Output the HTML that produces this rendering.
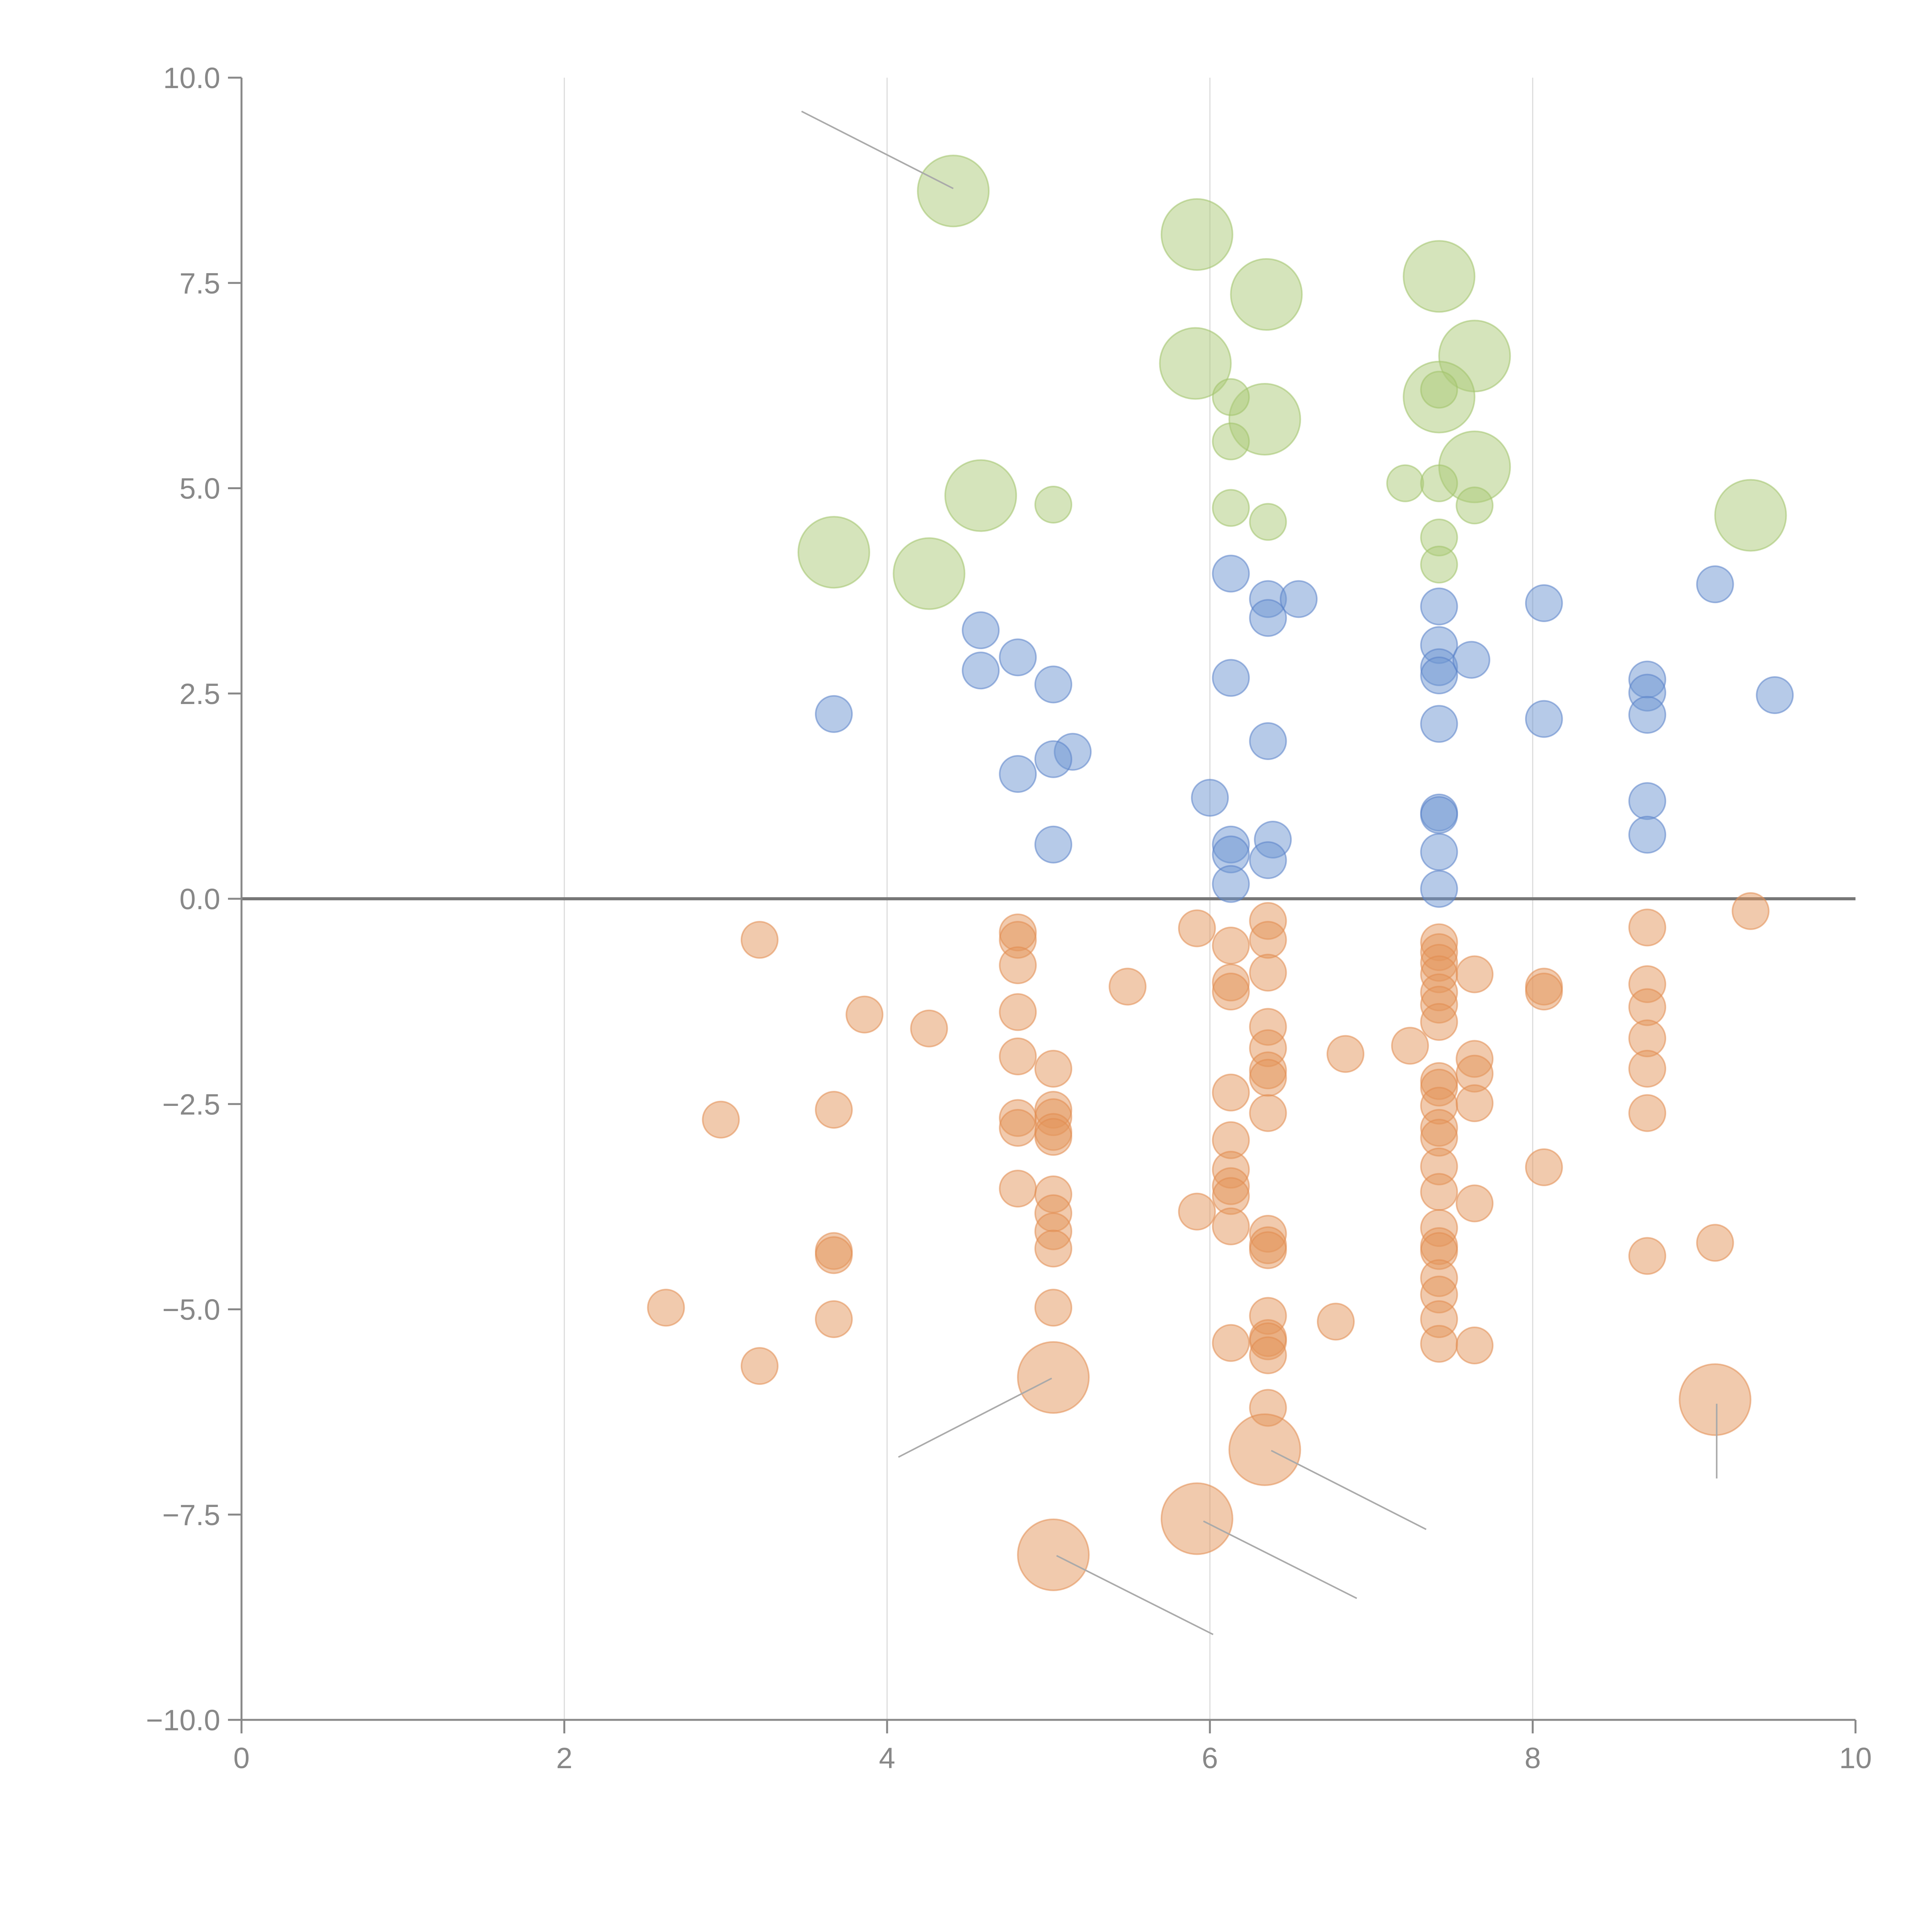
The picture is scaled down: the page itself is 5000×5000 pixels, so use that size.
<!DOCTYPE html>
<html><head><meta charset="utf-8"><style>
html,body{margin:0;padding:0;background:#fff}
svg{display:block}
text{font-family:"Liberation Sans",sans-serif;fill:#888;font-size:76px}
</style></head><body>
<svg id="chart" width="5000" height="5000" viewBox="0 0 5000 5000" xmlns="http://www.w3.org/2000/svg"></svg>
<script>
const xTicks=[0,2,4,6,8,10];
const yTicks=[-10,-7.5,-5,-2.5,0,2.5,5,7.5,10];
const yTickLabels=["\u221210.0","\u22127.5","\u22125.0","\u22122.5","0.0","2.5","5.0","7.5","10.0"];
const greenX=[4.41,5.92,6.35,7.42,7.64,5.91,7.42,6.34,6.13,6.13,7.64,7.42,7.21,7.42,4.58,5.03,6.13,6.36,7.64,9.35,3.67,7.42,7.42,4.26];
const greenY=[8.62,8.09,7.36,7.58,6.61,6.52,6.11,5.84,6.11,5.57,5.26,6.2,5.06,5.06,4.91,4.80,4.76,4.59,4.79,4.67,4.22,4.40,4.07,3.96];
const greenBig=[1,1,1,1,1,1,1,1,0,0,1,0,0,0,1,0,0,0,0,1,1,0,0,1];
const blueX=[6.13,6.36,6.55,6.36,7.42,8.07,9.13,4.58,4.81,4.58,5.03,3.67,7.42,7.42,7.42,7.62,6.13,8.71,8.71,8.71,9.50,8.07,7.42,6.36,5.15,5.03,4.81,6.00,8.71,7.42,7.42,8.71,5.03,6.13,6.39,6.13,7.42,6.36,6.13,7.42];
const blueY=[3.96,3.65,3.65,3.42,3.56,3.60,3.83,3.27,2.94,2.78,2.61,2.25,3.09,2.82,2.72,2.91,2.69,2.67,2.51,2.24,2.48,2.19,2.13,1.92,1.79,1.70,1.52,1.23,1.19,1.05,1.02,0.78,0.66,0.66,0.72,0.54,0.57,0.47,0.18,0.12];
const orangeX=[9.35,6.36,5.92,8.71,3.21,4.81,4.81,6.36,6.13,7.42,7.42,7.42,4.81,7.42,6.36,7.64,8.07,8.07,5.49,6.13,6.13,8.71,7.42,7.42,8.71,7.42,3.86,4.81,4.26,6.36,8.71,7.24,6.36,6.84,4.81,5.03,7.64,7.64,6.36,6.36,8.71,7.42,7.42,6.13,7.42,7.64,3.67,5.03,5.03,2.97,4.81,6.36,8.71,4.81,7.42,5.03,5.03,7.42,6.13,7.42,6.13,8.07,4.81,6.13,6.13,5.03,7.42,7.64,5.03,5.92,7.42,6.13,5.03,6.36,6.36,6.36,7.42,7.42,9.13,5.03,3.67,3.67,8.71,7.42,7.42,2.63,5.03,6.36,3.67,7.42,6.78,6.36,6.36,6.13,7.42,7.64,6.36,3.21,6.36,5.03,9.13,6.34,5.92,5.03];
const orangeY=[-0.15,-0.27,-0.36,-0.35,-0.50,-0.41,-0.50,-0.50,-0.57,-0.53,-0.65,-0.78,-0.81,-0.92,-0.90,-0.92,-1.07,-1.13,-1.07,-1.02,-1.13,-1.04,-1.14,-1.29,-1.32,-1.50,-1.41,-1.38,-1.58,-1.56,-1.70,-1.79,-1.82,-1.89,-1.92,-2.07,-1.95,-2.13,-2.09,-2.18,-2.07,-2.22,-2.30,-2.36,-2.52,-2.49,-2.57,-2.57,-2.66,-2.69,-2.67,-2.61,-2.61,-2.79,-2.79,-2.84,-2.90,-2.91,-2.94,-3.26,-3.30,-3.27,-3.53,-3.50,-3.62,-3.60,-3.57,-3.71,-3.83,-3.81,-4.01,-3.99,-4.05,-4.08,-4.22,-4.28,-4.23,-4.29,-4.19,-4.26,-4.29,-4.34,-4.35,-4.62,-4.82,-4.98,-4.98,-5.08,-5.12,-5.12,-5.15,-5.35,-5.39,-5.41,-5.42,-5.44,-5.56,-5.69,-6.20,-5.83,-6.10,-6.71,-7.55,-7.99];
const orangeBig=orangeX.map((v,i)=>i>=orangeX.length-5?1:0);
const annoX1=[3.47,4.07,6.38,5.96,5.05,9.14];
const annoY1=[9.59,-6.80,-6.72,-7.58,-8.00,-6.15];
const annoX2=[4.41,5.02,7.34,6.91,6.02,9.14];
const annoY2=[8.65,-5.84,-7.68,-8.52,-8.96,-7.06];

const svg=document.getElementById('chart');
const NS='http://www.w3.org/2000/svg';
const X0=625,X1=4802,Y0=4451,Y1=201;
const sx=v=>X0+(v-0)/10*(X1-X0);
const sy=v=>Y0-(v+10)/20*(Y0-Y1);
function mk(tag,attrs,parent){const e=document.createElementNS(NS,tag);for(const k in attrs)e.setAttribute(k,attrs[k]);(parent||svg).appendChild(e);return e;}

xTicks.forEach((t,i)=>{if(t===0||t===10)return;
 const g=mk('line',{x1:sx(t),x2:sx(t),y1:Y1,y2:Y0,stroke:'#ddd','stroke-width':3});
 
 });
const z=mk('line',{x1:X0,x2:X1,y1:sy(0),y2:sy(0),stroke:'#777','stroke-width':8});



function series(xs,ys,big,fill,stroke,name){
 const g=mk('g',{});
 
 
 xs.forEach((x,i)=>{const c=mk('circle',{cx:sx(x),cy:sy(ys[i]),r:big&&big[i]?92:47,fill:fill,stroke:stroke,'stroke-width':4},g);
  
  });
}
series(orangeX,orangeY,orangeBig,'rgba(228,150,92,0.5)','rgba(225,140,80,0.55)','negative');
series(blueX,blueY,null,'rgba(110,150,210,0.5)','rgba(90,130,200,0.55)','positive');
series(greenX,greenY,greenBig,'rgba(172,202,120,0.5)','rgba(160,195,105,0.55)','top');

annoX1.forEach((x,i)=>{const l=mk('line',{x1:sx(x),y1:sy(annoY1[i]),x2:sx(annoX2[i]),y2:sy(annoY2[i]),stroke:'#aaa','stroke-width':4});
 
 });

const ya=mk('line',{x1:X0,x2:X0,y1:Y1,y2:Y0,stroke:'#888','stroke-width':5});


const xa=mk('line',{x1:X0,x2:X1,y1:Y0,y2:Y0,stroke:'#888','stroke-width':5});


xTicks.forEach(t=>{
 const tk=mk('line',{x1:sx(t),x2:sx(t),y1:Y0,y2:Y0+35,stroke:'#888','stroke-width':5});
 
 
 const tx=mk('text',{x:sx(t),y:Y0+125,'text-anchor':'middle'});tx.textContent=String(t);
 
 
});
yTicks.forEach((t,i)=>{
 const tk=mk('line',{x1:X0-35,x2:X0,y1:sy(t),y2:sy(t),stroke:'#888','stroke-width':5});
 
 
 const tx=mk('text',{x:X0-55,y:sy(t)+27,'text-anchor':'end'});tx.textContent=yTickLabels[i];
 
 
});
</script>
</body></html>
